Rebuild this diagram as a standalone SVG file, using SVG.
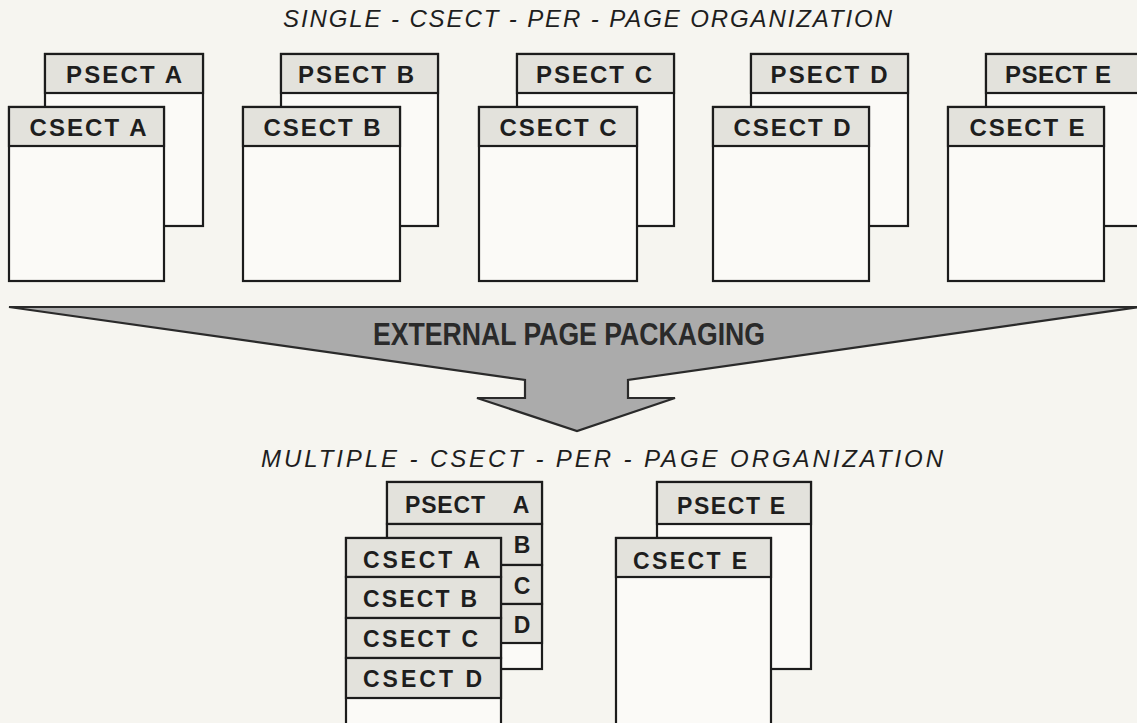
<svg xmlns="http://www.w3.org/2000/svg" width="1137" height="723" viewBox="0 0 1137 723">
<style>
.bg{fill:#f6f5f0}
.box{fill:#fbfaf7;stroke:#1c1c1c;stroke-width:2.2}
.hdr{fill:#e3e2dc;stroke:#1c1c1c;stroke-width:2.2}
.lbl{font-family:"Liberation Sans",Arial,sans-serif;font-weight:bold;font-size:24px;fill:#1e1e1e}
.lbs{font-family:"Liberation Sans",Arial,sans-serif;font-weight:bold;font-size:23px;fill:#1e1e1e}
.ttl{font-family:"Liberation Sans",Arial,sans-serif;font-style:italic;font-size:24px;fill:#1e1e1e}
.arrow{fill:#ababab;stroke:#2a2a2a;stroke-width:2.2;stroke-linejoin:miter}
.atx{font-family:"Liberation Sans",Arial,sans-serif;font-weight:bold;font-size:32px;fill:#2a2a2a}
</style>
<rect class="bg" x="0" y="0" width="1137" height="723"/>
<text class="ttl" x="283" y="27" textLength="609" lengthAdjust="spacing">SINGLE - CSECT - PER - PAGE ORGANIZATION</text>

<g id="psect-a-top"><rect class="box" x="45" y="54" width="158" height="172"/><rect class="hdr" x="45" y="54" width="158" height="39"/><text class="lbl" x="124" y="83" text-anchor="middle" textLength="116" lengthAdjust="spacing">PSECT A</text></g>
<g id="csect-a-top"><rect class="box" x="9" y="107" width="155" height="174"/><rect class="hdr" x="9" y="107" width="155" height="39"/><text class="lbl" x="88" y="136" text-anchor="middle" textLength="117" lengthAdjust="spacing">CSECT A</text></g>

<g id="psect-b-top"><rect class="box" x="281" y="54" width="157" height="172"/><rect class="hdr" x="281" y="54" width="157" height="39"/><text class="lbl" x="356" y="83" text-anchor="middle" textLength="116" lengthAdjust="spacing">PSECT B</text></g>
<g id="csect-b-top"><rect class="box" x="243" y="107" width="157" height="174"/><rect class="hdr" x="243" y="107" width="157" height="39"/><text class="lbl" x="322" y="136" text-anchor="middle" textLength="117" lengthAdjust="spacing">CSECT B</text></g>

<g id="psect-c-top"><rect class="box" x="517" y="54" width="157" height="172"/><rect class="hdr" x="517" y="54" width="157" height="39"/><text class="lbl" x="594" y="83" text-anchor="middle" textLength="116" lengthAdjust="spacing">PSECT C</text></g>
<g id="csect-c-top"><rect class="box" x="479" y="107" width="158" height="174"/><rect class="hdr" x="479" y="107" width="158" height="39"/><text class="lbl" x="558" y="136" text-anchor="middle" textLength="117" lengthAdjust="spacing">CSECT C</text></g>

<g id="psect-d-top"><rect class="box" x="751" y="54" width="157" height="172"/><rect class="hdr" x="751" y="54" width="157" height="39"/><text class="lbl" x="829" y="83" text-anchor="middle" textLength="117" lengthAdjust="spacing">PSECT D</text></g>
<g id="csect-d-top"><rect class="box" x="713" y="107" width="156" height="174"/><rect class="hdr" x="713" y="107" width="156" height="39"/><text class="lbl" x="792" y="136" text-anchor="middle" textLength="117" lengthAdjust="spacing">CSECT D</text></g>

<g id="psect-e-top"><rect class="box" x="986" y="54" width="158" height="172"/><rect class="hdr" x="986" y="54" width="158" height="39"/><text class="lbl" x="1058" y="83" text-anchor="middle" textLength="106" lengthAdjust="spacing">PSECT E</text></g>
<g id="csect-e-top"><rect class="box" x="948" y="107" width="156" height="174"/><rect class="hdr" x="948" y="107" width="156" height="39"/><text class="lbl" x="1027" y="136" text-anchor="middle" textLength="115" lengthAdjust="spacing">CSECT E</text></g>

<g id="connectors">
<polygon class="arrow" points="9,307 1140,307 628,380 628,398 675,398 577,431 477,398 525,398 525,380"/>
</g>
<text class="atx" x="569" y="345" text-anchor="middle" textLength="392" lengthAdjust="spacingAndGlyphs">EXTERNAL PAGE PACKAGING</text>

<text class="ttl" x="261" y="467" textLength="682" lengthAdjust="spacing">MULTIPLE - CSECT - PER - PAGE ORGANIZATION</text>

<g id="psect-stack">
<rect class="box" x="387" y="482" width="155" height="187"/>
<rect class="hdr" x="387" y="482" width="155" height="42"/>
<rect class="hdr" x="387" y="524" width="155" height="41"/>
<rect class="hdr" x="387" y="565" width="155" height="39"/>
<rect class="hdr" x="387" y="604" width="155" height="39"/>
<text class="lbs" x="405" y="513" textLength="80" lengthAdjust="spacing">PSECT</text>
<text class="lbs" x="521" y="513" text-anchor="middle">A</text>
<text class="lbs" x="522" y="553" text-anchor="middle">B</text>
<text class="lbs" x="522" y="594" text-anchor="middle">C</text>
<text class="lbs" x="522" y="633" text-anchor="middle">D</text>
</g>
<g id="csect-stack">
<rect class="box" x="346" y="538" width="155" height="200"/>
<rect class="hdr" x="346" y="538" width="155" height="39"/>
<rect class="hdr" x="346" y="577" width="155" height="41"/>
<rect class="hdr" x="346" y="618" width="155" height="40"/>
<rect class="hdr" x="346" y="658" width="155" height="40"/>
<text class="lbs" x="363" y="568" textLength="117" lengthAdjust="spacing">CSECT A</text>
<text class="lbs" x="363" y="607" textLength="114" lengthAdjust="spacing">CSECT B</text>
<text class="lbs" x="363" y="647" textLength="115" lengthAdjust="spacing">CSECT C</text>
<text class="lbs" x="363" y="687" textLength="119" lengthAdjust="spacing">CSECT  D</text>
</g>
<g id="psect-e-bottom">
<rect class="box" x="657" y="482" width="154" height="187"/>
<rect class="hdr" x="657" y="482" width="154" height="42"/>
<text class="lbs" x="731" y="514" text-anchor="middle" textLength="108" lengthAdjust="spacing">PSECT E</text>
</g>
<g id="csect-e-bottom">
<rect class="box" x="616" y="538" width="155" height="200"/>
<rect class="hdr" x="616" y="538" width="155" height="39"/>
<text class="lbs" x="690" y="569" text-anchor="middle" textLength="114" lengthAdjust="spacing">CSECT E</text>
</g>
</svg>
